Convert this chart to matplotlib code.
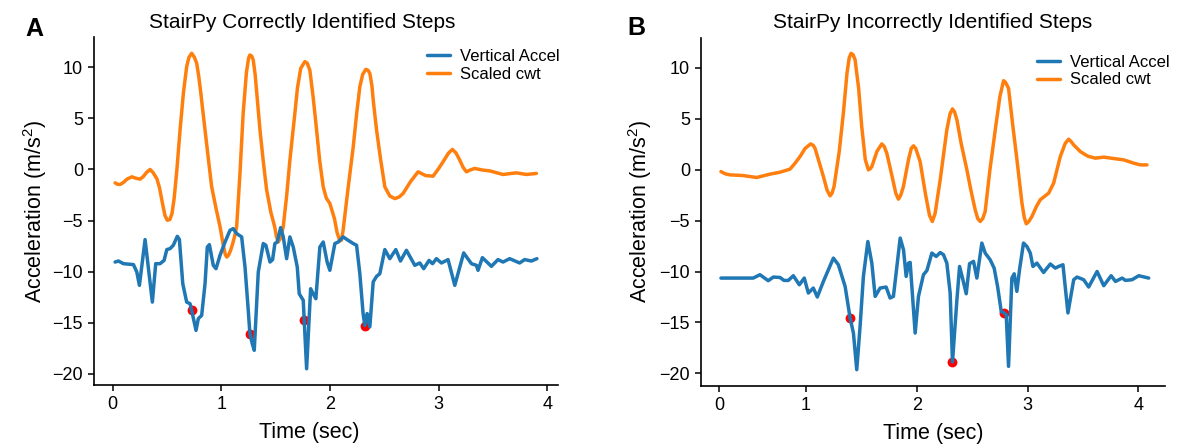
import numpy as np
import matplotlib
matplotlib.use("Agg")
import matplotlib.pyplot as plt

plt.rcParams['font.family'] = ['Liberation Sans', 'DejaVu Sans']
plt.rcParams['mathtext.default'] = 'regular'

# ---------------- Panel A data ----------------
a_acc_t = [0.021, 0.052, 0.098, 0.190, 0.221, 0.245, 0.297, 0.364, 0.395, 0.435, 0.472, 0.497,
           0.527, 0.557, 0.594, 0.613, 0.644, 0.680, 0.711, 0.726, 0.766, 0.787, 0.818, 0.849,
           0.870, 0.889, 0.925, 0.950, 0.987, 1.033, 1.079, 1.109, 1.140, 1.186, 1.217, 1.247,
           1.262, 1.284, 1.302, 1.339, 1.385, 1.409, 1.447, 1.471, 1.492, 1.513, 1.545, 1.569,
           1.600, 1.630, 1.661, 1.698, 1.716, 1.753, 1.762, 1.784, 1.821, 1.851, 1.869, 1.906,
           1.937, 1.973, 1.998, 2.044, 2.075, 2.120, 2.166, 2.213, 2.244, 2.274, 2.304, 2.320,
           2.341, 2.366, 2.397, 2.428, 2.458, 2.504, 2.550, 2.605, 2.648, 2.703, 2.780, 2.826,
           2.862, 2.911, 2.943, 2.979, 3.025, 3.086, 3.148, 3.230, 3.301, 3.347, 3.362, 3.402,
           3.485, 3.546, 3.592, 3.653, 3.745, 3.791, 3.853, 3.904]
a_acc_v = [-9.06, -8.96, -9.22, -9.31, -10.04, -11.34, -6.86, -12.98, -9.22, -9.22, -8.90, -7.84,
           -7.75, -7.42, -6.54, -6.86, -11.18, -12.98, -13.14, -13.80, -15.75, -14.60, -14.28, -11.18,
           -7.59, -7.36, -9.38, -9.71, -8.40, -7.10, -5.95, -5.79, -6.27, -6.60, -9.55, -13.80,
           -16.08, -17.06, -17.70, -10.04, -7.25, -7.42, -9.06, -8.82, -7.25, -7.10, -5.69, -6.60,
           -8.73, -6.60, -7.59, -9.55, -12.16, -12.80, -14.78, -19.50, -11.67, -12.30, -12.65, -7.59,
           -7.10, -9.06, -9.87, -7.25, -7.10, -6.60, -6.93, -7.25, -7.42, -10.20, -14.10, -15.27,
           -14.10, -15.40, -11.00, -10.46, -10.20, -7.84, -8.73, -7.84, -8.96, -7.91, -9.38, -9.15,
           -9.71, -8.90, -9.22, -8.73, -9.15, -8.82, -11.34, -8.17, -9.22, -9.38, -9.87, -8.63,
           -9.48, -8.82, -9.06, -8.73, -9.15, -8.82, -8.96, -8.73]

a_cwt_t = [0.021, 0.045, 0.068, 0.100, 0.130, 0.175, 0.210, 0.251, 0.280, 0.310, 0.343, 0.370,
           0.405, 0.430, 0.455, 0.480, 0.502, 0.525, 0.545, 0.565, 0.590, 0.619, 0.650, 0.680,
           0.700, 0.726, 0.750, 0.772, 0.790, 0.810, 0.830, 0.849, 0.880, 0.910, 0.950, 0.987,
           1.015, 1.035, 1.048, 1.065, 1.085, 1.105, 1.122, 1.140, 1.170, 1.200, 1.230, 1.250,
           1.262, 1.278, 1.293, 1.310, 1.325, 1.355, 1.385, 1.416, 1.455, 1.490, 1.505, 1.523,
           1.545, 1.569, 1.600, 1.630, 1.676, 1.700, 1.730, 1.768, 1.790, 1.814, 1.845, 1.876,
           1.905, 1.937, 1.965, 1.998, 2.040, 2.065, 2.090, 2.105, 2.120, 2.165, 2.213, 2.245,
           2.274, 2.300, 2.329, 2.350, 2.366, 2.385, 2.400, 2.428, 2.465, 2.504, 2.550, 2.596,
           2.635, 2.672, 2.740, 2.810, 2.880, 2.948, 3.000, 3.040, 3.090, 3.126, 3.160, 3.194,
           3.225, 3.255, 3.290, 3.331, 3.400, 3.470, 3.592, 3.715, 3.807, 3.899]
a_cwt_v = [-1.31, -1.45, -1.47, -1.25, -0.95, -0.72, -0.85, -0.95, -0.70, -0.30, 0.00, -0.30,
           -0.89, -1.80, -3.20, -4.50, -4.97, -4.90, -4.30, -2.80, 0.00, 3.85, 7.50, 10.06,
           10.95, 11.37, 11.00, 10.40, 9.20, 7.50, 5.60, 3.85, 1.00, -1.70, -3.80, -5.60,
           -7.30, -8.30, -8.57, -8.40, -7.90, -7.20, -6.50, -5.60, -0.50, 5.50, 9.50, 10.90,
           11.20, 11.10, 10.70, 9.30, 7.50, 3.85, 0.80, -2.00, -4.20, -5.60, -6.50, -7.10,
           -6.70, -5.60, -2.60, 0.90, 5.50, 8.00, 9.90, 10.55, 10.40, 9.70, 7.00, 3.85,
           0.80, -1.70, -2.80, -3.33, -4.80, -6.20, -7.00, -6.90, -5.95, -1.90, 2.20, 5.50,
           8.10, 9.30, 9.80, 9.70, 9.40, 8.20, 6.50, 3.85, 1.00, -1.70, -2.60, -2.85,
           -2.70, -2.35, -1.20, -0.23, -0.60, -0.66, 0.10, 0.75, 1.60, 1.96, 1.60, 0.91,
           0.20, -0.23, -0.05, 0.10, -0.05, -0.14, -0.49, -0.33, -0.49, -0.39]

a_step_t = [0.726, 1.262, 1.762, 2.320]
a_step_v = [-13.80, -16.08, -14.78, -15.27]

# ---------------- Panel B data ----------------
b_acc_t = [0.020, 0.392, 0.469, 0.565, 0.623, 0.700, 0.746, 0.796, 0.854, 0.923, 0.980, 1.021,
           1.066, 1.102, 1.157, 1.247, 1.292, 1.353, 1.398, 1.428, 1.458, 1.488, 1.518, 1.558,
           1.594, 1.624, 1.669, 1.723, 1.759, 1.789, 1.850, 1.880, 1.904, 1.925, 1.940, 1.985,
           2.015, 2.060, 2.091, 2.136, 2.175, 2.211, 2.241, 2.271, 2.301, 2.322, 2.362, 2.386,
           2.416, 2.446, 2.476, 2.512, 2.542, 2.587, 2.617, 2.662, 2.698, 2.729, 2.762, 2.789,
           2.807, 2.828, 2.858, 2.879, 2.903, 2.927, 2.963, 2.994, 3.024, 3.048, 3.084, 3.144,
           3.205, 3.250, 3.280, 3.319, 3.364, 3.416, 3.446, 3.506, 3.551, 3.627, 3.687, 3.754,
           3.793, 3.853, 3.883, 3.943, 4.003, 4.093]
b_acc_v = [-10.64, -10.64, -10.31, -10.90, -10.54, -10.58, -10.87, -10.87, -10.41, -11.30, -10.64, -12.11,
           -11.62, -12.50, -10.97, -8.68, -9.33, -11.46, -14.56, -16.04, -19.64, -15.39, -10.48, -7.05,
           -9.17, -12.44, -11.62, -11.52, -12.60, -12.44, -6.71, -7.86, -10.48, -9.17, -9.10, -16.04,
           -12.44, -10.31, -9.90, -8.18, -8.52, -8.13, -8.35, -9.17, -12.11, -18.88, -12.77, -9.50,
           -10.80, -12.18, -9.23, -9.00, -10.64, -7.20, -8.18, -8.84, -9.66, -11.46, -13.92, -14.07,
           -14.24, -19.31, -10.64, -10.22, -11.95, -9.82, -7.20, -7.54, -8.18, -9.50, -9.17, -10.09,
           -9.26, -9.66, -9.50, -9.33, -14.07, -10.80, -10.54, -10.80, -11.52, -9.99, -11.39, -10.41,
           -10.97, -10.64, -10.87, -10.80, -10.41, -10.64]

b_cwt_t = [0.020, 0.070, 0.123, 0.277, 0.431, 0.585, 0.700, 0.815, 0.870, 0.931, 0.990, 1.042,
           1.065, 1.081, 1.120, 1.157, 1.190, 1.217, 1.235, 1.253, 1.300, 1.337, 1.370, 1.390,
           1.407, 1.425, 1.443, 1.475, 1.503, 1.535, 1.563, 1.580, 1.594, 1.640, 1.684, 1.705,
           1.729, 1.780, 1.810, 1.834, 1.855, 1.879, 1.925, 1.950, 1.970, 1.990, 2.030, 2.080,
           2.115, 2.140, 2.165, 2.211, 2.271, 2.300, 2.322, 2.340, 2.362, 2.400, 2.452, 2.490,
           2.527, 2.550, 2.572, 2.595, 2.617, 2.660, 2.708, 2.750, 2.783, 2.800, 2.828, 2.870,
           2.904, 2.949, 2.970, 2.988, 3.010, 3.039, 3.080, 3.114, 3.160, 3.190, 3.235, 3.295,
           3.340, 3.370, 3.390, 3.416, 3.476, 3.540, 3.611, 3.687, 3.780, 3.867, 3.957, 4.017,
           4.077]
b_cwt_v = [-0.18, -0.40, -0.50, -0.57, -0.76, -0.43, -0.24, 0.06, 0.60, 1.30, 2.10, 2.54,
           2.40, 2.12, 0.70, -0.67, -2.00, -2.56, -2.30, -1.65, 1.80, 5.55, 9.50, 11.00,
           11.44, 11.30, 10.80, 8.00, 4.24, 1.00, -0.01, 0.10, 0.31, 1.80, 2.54, 2.30,
           1.63, -0.80, -2.30, -2.89, -2.50, -1.65, 1.00, 2.10, 2.35, 2.10, 0.80, -2.50,
           -4.50, -5.08, -4.30, -1.00, 3.92, 5.50, 5.98, 5.70, 4.90, 2.60, -0.01, -2.10,
           -3.94, -4.80, -5.08, -4.80, -4.10, 0.00, 3.92, 7.20, 8.75, 8.60, 8.00, 4.00,
           0.97, -3.28, -4.70, -5.31, -5.10, -4.59, -3.60, -2.95, -2.55, -2.30, -1.31, 1.30,
           2.60, 3.00, 2.80, 2.44, 1.79, 1.35, 1.14, 1.24, 1.10, 0.97, 0.65, 0.48,
           0.48]

b_step_t = [1.398, 2.322, 2.789]
b_step_v = [-14.56, -18.88, -14.07]

series_labels = ['Vertical Accel', 'Scaled cwt']
titles = ['StairPy Correctly Identified Steps', 'StairPy Incorrectly Identified Steps']
panel_letters = ['A', 'B']
x_label = 'Time (sec)'
y_label = r'Acceleration (m/s$^2$)'
y_ticks = [-20, -15, -10, -5, 0, 5, 10]
x_ticks = [0, 1, 2, 3, 4]

BLUE = '#1f77b4'
ORANGE = '#ff7f0e'

fig = plt.figure(figsize=(11.8, 4.45), dpi=100)
W, H = 1180.0, 445.0

def axes_rect(x0, x1, ytop, ybot):
    return [x0 / W, 1 - ybot / H, (x1 - x0) / W, (ybot - ytop) / H]

ax1 = fig.add_axes(axes_rect(94, 558, 37.5, 384.5))
ax2 = fig.add_axes(axes_rect(701, 1165, 37.5, 385.5))

# squeezed segment on the left of panel B's time axis (as in the reference)
K = 86.7 / 110.7
def fwd(x):
    x = np.asarray(x, dtype=float)
    return np.where(x < 1, 1 - (1 - x) * K, x)
def inv(y):
    y = np.asarray(y, dtype=float)
    return np.where(y < 1, 1 - (1 - y) / K, y)
ax2.set_xscale('function', functions=(fwd, inv))

panels = [
    (ax1, a_acc_t, a_acc_v, a_cwt_t, a_cwt_v, a_step_t, a_step_v),
    (ax2, b_acc_t, b_acc_v, b_cwt_t, b_cwt_v, b_step_t, b_step_v),
]

for i, (ax, at, av, ct, cv, st, sv) in enumerate(panels):
    ax.plot(at, av, color=BLUE, lw=2.5, label=series_labels[0], zorder=3,
            solid_joinstyle='round', solid_capstyle='round')
    ax.plot(ct, cv, color=ORANGE, lw=2.5, label=series_labels[1], zorder=2,
            solid_joinstyle='round', solid_capstyle='round')
    ax.scatter(st, sv, color='red', s=50, zorder=2.5, linewidths=0)
    ax.set_title(titles[i], fontsize=15, pad=7)
    ax.set_xticks(x_ticks)
    ax.set_yticks(y_ticks)
    ax.tick_params(labelsize=13, width=1.1, length=4, pad=4)
    ax.spines['top'].set_visible(False)
    ax.spines['right'].set_visible(False)
    for s in ('left', 'bottom'):
        ax.spines[s].set_linewidth(1.2)
    ax.set_xlabel(x_label, fontsize=15.5)
    ax.set_ylabel(y_label, fontsize=15.5)

ax2.set_xlim(-0.21, 4.24)

# label placement
ax1.title.set_position((0.449, 1.0))
ax1.xaxis.set_label_coords(0.463, -0.108)
ax2.xaxis.set_label_coords(0.500, -0.108)
ax1.yaxis.set_label_coords(-0.098, 0.5)
ax2.yaxis.set_label_coords(-0.101, 0.5)

leg_kw = dict(frameon=False, fontsize=12, loc='upper left', borderpad=0, borderaxespad=0,
              handlelength=1.4, handletextpad=0.6, labelspacing=0.15)
ax1.legend(bbox_to_anchor=(0.718, 0.966), **leg_kw)
ax2.legend(bbox_to_anchor=(0.724, 0.950), **leg_kw)

fig.text(25 / W, 1 - 36 / H, panel_letters[0], fontsize=18, fontweight='bold', ha='left', va='baseline')
fig.text(627 / W, 1 - 35 / H, panel_letters[1], fontsize=18, fontweight='bold', ha='left', va='baseline')

fig.savefig('out.png', dpi=100)
